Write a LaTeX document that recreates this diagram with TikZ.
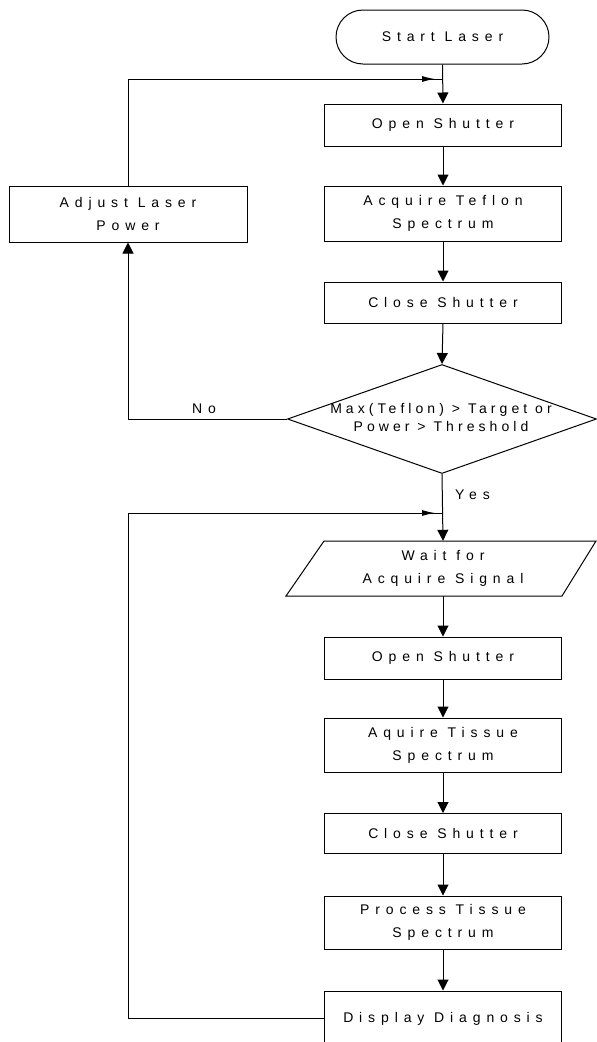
\documentclass[tikz,border=0pt]{standalone}
\usepackage{fontspec}
\setmainfont{Liberation Sans}
\newfontfamily\boxfont{Liberation Sans}[LetterSpace=42]
\newfontfamily\decfont{Liberation Sans}[LetterSpace=29]
\usetikzlibrary{shapes.geometric,arrows.meta,calc}
\tikzset{
  box/.style={draw, line width=1pt, minimum width=237pt, inner sep=0pt, align=center,
    font=\boxfont\fontsize{14}{23}\selectfont},
  term/.style={draw, line width=1pt, rounded corners=27pt, minimum width=213pt, minimum height=54pt,
    inner sep=0pt, font=\boxfont\fontsize{14}{23}\selectfont},
  txt/.style={inner sep=0pt, align=center, font=\boxfont\fontsize{14}{23}\selectfont},
  dectxt/.style={inner sep=0pt, align=center, font=\decfont\fontsize{14}{18}\selectfont},
  arr/.style={line width=1pt, -{Triangle[length=11pt,width=11pt]}},
  conn/.style={line width=1pt},
  marker/.style={line width=1pt, -{Latex[length=13pt,width=6pt]}},
}
\begin{document}
\begin{tikzpicture}[x=1pt,y=-1pt]
\useasboundingbox (0,0) rectangle (597,1042);
\clip (0,0) rectangle (597,1042);
\fill[white] (0,0) rectangle (597,1042);

\node[term] (start) at (442.5,37) {Start Laser};
\node[box, minimum height=42pt] (open1) at (443,125) {Open Shutter};
\node[box, minimum height=55pt] (acq1) at (443,213.5) {Acquire Teflon\\Spectrum};
\node[box, minimum height=41pt] (close1) at (443,302.5) {Close Shutter};
\node[draw, diamond, line width=1pt, minimum width=309pt, minimum height=109pt, inner sep=0pt] (dec) at (442,419) {};
\node[dectxt] (dectext) at (441,417) {Max(Teflon) > Target or\\Power > Threshold};
\node[box, minimum width=238pt, minimum height=56pt] (adjust) at (128,214) {Adjust Laser\\Power};

\coordinate (wtl) at (324,541);
\coordinate (wtr) at (596,541);
\coordinate (wbr) at (562,596);
\coordinate (wbl) at (286,596);
\draw[line width=1pt] (wtl) -- (wtr) -- (wbr) -- (wbl) -- cycle;
\node[txt, minimum width=200pt, minimum height=55pt] (wait) at (443,568.5) {Wait for\\Acquire Signal};

\node[box, minimum height=42pt] (open2) at (443,658) {Open Shutter};
\node[box, minimum height=54pt] (acq2) at (443,745) {Aquire Tissue\\Spectrum};
\node[box, minimum height=40pt] (close2) at (443,833.5) {Close Shutter};
\node[box, minimum height=53pt] (proc) at (443,922.5) {Process Tissue\\Spectrum};
\node[box, minimum height=55pt] (disp) at (443,1018.5) {Display Diagnosis};

\node[txt, anchor=west] (yes) at (455,495) {Yes};
\node[txt] (no) at (204,409) {No};

% main flow
\coordinate (j1) at (443,79);
\draw[arr] (start.south) -- (open1.north);
\draw[arr] (open1.south) -- (acq1.north);
\draw[arr] (acq1.south) -- (close1.north);
\draw[arr] (close1.south) -- (dec.north);
\coordinate (j2) at (443,513);
\draw[arr] (dec.south) -- (wait.north);
\draw[arr] (wait.south) -- (open2.north);
\draw[arr] (open2.south) -- (acq2.north);
\draw[arr] (acq2.south) -- (close2.north);
\draw[arr] (close2.south) -- (proc.north);
\draw[arr] (proc.south) -- (disp.north);

% No branch
\draw[arr] (dec.west) -| (adjust.south);
% feedback to top
\draw[conn] (adjust.north) |- (j1);
\draw[marker] ($(j1)+(-30,0)$) -- ($(j1)+(-8,0)$);
% feedback loop bottom
\draw[conn] (disp.west) -| (128,513) -- (j2);
\draw[marker] ($(j2)+(-30,0)$) -- ($(j2)+(-8,0)$);
\end{tikzpicture}
\end{document}
